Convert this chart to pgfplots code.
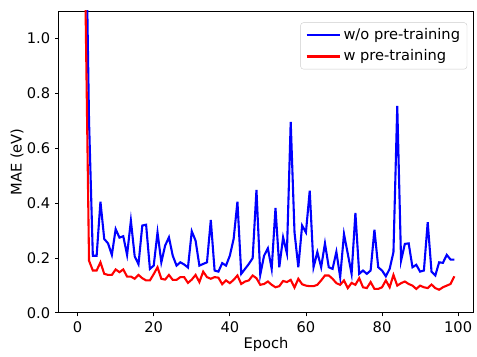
\documentclass[border=0pt]{standalone}
\usepackage{pgfplots}
\pgfplotsset{compat=1.18}
\usepackage{fontspec}
\setmainfont{DejaVu Sans}
\begin{document}
\fontsize{14.7bp}{17bp}\selectfont
\begin{tikzpicture}
\begin{axis}[
  scale only axis,
  width=416bp, height=303bp,
  xmin=-4.95, xmax=103.95,
  ymin=0, ymax=1.1,
  xtick={0,20,40,60,80,100},
  ytick={0,0.2,0.4,0.6,0.8,1.0},
  yticklabel style={/pgf/number format/.cd, fixed, fixed zerofill, precision=1},
  /pgf/number format/assume math mode=true,
  tick align=outside,
  tick pos=left,
  major tick length=3.6bp,
  tick style={black, line width=0.8bp},
  axis line style={black, line width=0.8bp},
  ticklabel style={font=\fontsize{14.7bp}{17bp}\selectfont},
  xlabel={Epoch}, ylabel={MAE (eV)},
  every axis x label/.style={at={(rel axis cs:0.5,0)}, yshift=-32bp, anchor=center, font=\fontsize{14.7bp}{17bp}\selectfont},
  every axis y label/.style={at={(rel axis cs:0,0.5)}, xshift=-42bp, rotate=90, anchor=center, font=\fontsize{14.7bp}{17bp}\selectfont},
  legend cell align=left,
  legend style={at={(rel axis cs:0.9856,0.962)}, anchor=north east, draw=black!20, rounded corners=3bp, font=\fontsize{14.7bp}{17bp}\selectfont, inner xsep=5bp, inner ysep=4bp, row sep=4bp},
  legend image code/.code={\draw[#1] (0bp,0bp) -- (34bp,0bp);},
]
\addplot[blue, line width=2.1bp] table {
x y
0 3.5
1 2.6
2 1.6
3 0.7
4 0.208
5 0.208
6 0.405
7 0.269
8 0.253
9 0.211
10 0.305
11 0.274
12 0.279
13 0.211
14 0.336
15 0.206
16 0.177
17 0.318
18 0.321
19 0.160
20 0.172
21 0.293
22 0.184
23 0.245
24 0.275
25 0.208
26 0.172
27 0.184
28 0.176
29 0.165
30 0.297
31 0.263
32 0.172
33 0.178
34 0.184
35 0.338
36 0.154
37 0.150
38 0.181
39 0.172
40 0.208
41 0.269
42 0.405
43 0.142
44 0.160
45 0.178
46 0.199
47 0.448
48 0.139
49 0.208
50 0.235
51 0.160
52 0.382
53 0.166
54 0.275
55 0.217
56 0.696
57 0.293
58 0.166
59 0.318
60 0.293
61 0.445
62 0.166
63 0.221
64 0.166
65 0.253
66 0.166
67 0.160
68 0.222
69 0.130
70 0.287
71 0.215
72 0.142
73 0.364
74 0.142
75 0.154
76 0.142
77 0.154
78 0.303
79 0.166
80 0.154
81 0.133
82 0.160
83 0.221
84 0.754
85 0.190
86 0.251
87 0.253
88 0.166
89 0.175
90 0.150
91 0.154
92 0.330
93 0.150
94 0.136
95 0.184
96 0.182
97 0.211
98 0.194
99 0.194
};
\addlegendentry{w/o pre-training}
\addplot[red, line width=2.1bp] table {
x y
0 4.0
1 2.5
2 1.2
3 0.190
4 0.154
5 0.154
6 0.184
7 0.142
8 0.138
9 0.138
10 0.158
11 0.148
12 0.158
13 0.132
14 0.132
15 0.124
16 0.138
17 0.126
18 0.118
19 0.118
20 0.141
21 0.166
22 0.124
23 0.121
24 0.138
25 0.120
26 0.120
27 0.130
28 0.130
29 0.109
30 0.121
31 0.138
32 0.112
33 0.150
34 0.130
35 0.124
36 0.130
37 0.128
38 0.104
39 0.118
40 0.108
41 0.120
42 0.136
43 0.105
44 0.114
45 0.118
46 0.136
47 0.126
48 0.102
49 0.105
50 0.114
51 0.102
52 0.093
53 0.097
54 0.116
55 0.112
56 0.120
57 0.092
58 0.124
59 0.104
60 0.099
61 0.097
62 0.097
63 0.102
64 0.118
65 0.136
66 0.136
67 0.124
68 0.108
69 0.102
70 0.118
71 0.090
72 0.109
73 0.102
74 0.126
75 0.093
76 0.090
77 0.112
78 0.087
79 0.087
80 0.093
81 0.118
82 0.093
83 0.138
84 0.099
85 0.108
86 0.114
87 0.105
88 0.099
89 0.087
90 0.099
91 0.093
92 0.090
93 0.103
94 0.090
95 0.084
96 0.093
97 0.099
98 0.105
99 0.133
};
\addlegendentry{w pre-training}
\end{axis}
\path ([xshift=-59bp,yshift=-40bp]current axis.south west) rectangle ([xshift=2bp,yshift=11bp]current axis.north east);
\end{tikzpicture}
\end{document}
